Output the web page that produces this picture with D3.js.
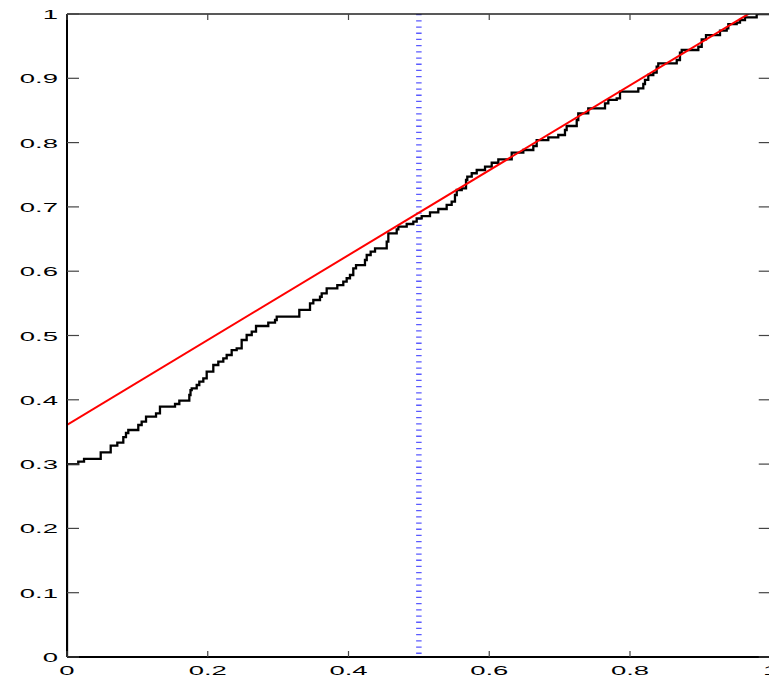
<!DOCTYPE html>
<html>
<head>
<meta charset="utf-8">
<script src="https://cdn.jsdelivr.net/npm/d3@7"></script>
<style>
  html, body { margin: 0; padding: 0; background: #fff; overflow: hidden; }
  svg { display: block; }
  text { font-family: "Liberation Sans", Arial, Helvetica, sans-serif; fill: #000; }
</style>
</head>
<body>
<svg id="chart" width="769" height="678"></svg>
<script>
// Empirical step curve: jump locations and the level reached after each jump
const cdfX = [0, 0, 0.016, 0.0242, 0.0479, 0.0621, 0.0715, 0.080, 0.0838, 0.0871, 0.1013, 0.1061, 0.1123,
  0.1265, 0.1321, 0.1535, 0.1596, 0.1738, 0.1755, 0.1772, 0.1843, 0.188, 0.1937, 0.1985, 0.2079, 0.215,
  0.2221, 0.2269, 0.234, 0.2411, 0.2482, 0.2553, 0.2625, 0.2686, 0.286, 0.2956, 0.298, 0.3301, 0.3453,
  0.35, 0.3595, 0.3619, 0.369, 0.3841, 0.3926, 0.3974, 0.4021, 0.4068, 0.4107, 0.4234, 0.4259, 0.4315,
  0.4377, 0.4543, 0.4566, 0.4685, 0.4708, 0.4827, 0.4921, 0.4969, 0.504, 0.5158, 0.5276, 0.5395, 0.5466,
  0.5513, 0.5538, 0.5609, 0.567, 0.5688, 0.5751, 0.5822, 0.594, 0.6035, 0.6129, 0.6319, 0.6484, 0.6626,
  0.6674, 0.6839, 0.6981, 0.7076, 0.71, 0.7243, 0.7265, 0.7407, 0.7645, 0.7692, 0.7811, 0.7858, 0.8118,
  0.8189, 0.8213, 0.826, 0.8331, 0.8379, 0.8402, 0.8664, 0.871, 0.8735, 0.8971, 0.9019, 0.908, 0.9279,
  0.9374, 0.9397, 0.9516, 0.9563, 0.9634, 0.98, 1];
const cdfY = [0, 0.30, 0.304, 0.308, 0.3183, 0.3286, 0.3333, 0.3421, 0.3484, 0.353, 0.3608, 0.366, 0.3737,
  0.379, 0.3893, 0.3935, 0.3986, 0.4075, 0.4152, 0.4179, 0.423, 0.4282, 0.4334, 0.4437, 0.4541, 0.4593,
  0.4645, 0.4697, 0.4774, 0.4801, 0.493, 0.5008, 0.5059, 0.5148, 0.5199, 0.5241, 0.5292, 0.5397, 0.5501,
  0.5552, 0.5603, 0.5656, 0.5734, 0.5785, 0.5837, 0.589, 0.5941, 0.6045, 0.6096, 0.6174, 0.6252, 0.6303,
  0.6356, 0.6459, 0.6589, 0.6652, 0.6692, 0.6734, 0.677, 0.6823, 0.6858, 0.6916, 0.6967, 0.703, 0.7081,
  0.7185, 0.7263, 0.7289, 0.7418, 0.747, 0.7523, 0.7574, 0.7625, 0.7687, 0.774, 0.7843, 0.7885, 0.7947,
  0.804, 0.8082, 0.8118, 0.8196, 0.8258, 0.8351, 0.8456, 0.8533, 0.8611, 0.8663, 0.8689, 0.8792, 0.8844,
  0.8911, 0.8974, 0.9051, 0.9087, 0.918, 0.9233, 0.9285, 0.9398, 0.944, 0.9491, 0.9606, 0.9673, 0.974,
  0.9778, 0.9844, 0.9865, 0.9907, 0.9949, 1, 1];

// Reference straight line (endpoints over the full x range, clipped to the axes)
const lineX = [0, 1];
const lineY = [0.361, 1.021];

// Vertical dotted marker
const markerX = 0.5;

// Tick values and labels
const xTickVals = [0, 0.2, 0.4, 0.6, 0.8, 1];
const xTickLabels = ["0", "0.2", "0.4", "0.6", "0.8", "1"];
const yTickVals = [0, 0.1, 0.2, 0.3, 0.4, 0.5, 0.6, 0.7, 0.8, 0.9, 1];
const yTickLabels = ["0", "0.1", "0.2", "0.3", "0.4", "0.5", "0.6", "0.7", "0.8", "0.9", "1"];

const pLeft = 67, pRight = 770.75, pTop = 14, pBottom = 657;
const x = d3.scaleLinear().domain([0, 1]).range([pLeft, pRight]);
const y = d3.scaleLinear().domain([0, 1]).range([pBottom, pTop]);

const svg = d3.select("#chart");

svg.append("defs").append("clipPath").attr("id", "plotclip")
  .append("rect")
  .attr("x", pLeft).attr("y", pTop)
  .attr("width", pRight - pLeft).attr("height", pBottom - pTop);

const plot = svg.append("g").attr("clip-path", "url(#plotclip)");

// dotted blue marker at x = 0.5
plot.append("line")
  .attr("x1", x(markerX)).attr("x2", x(markerX))
  .attr("y1", y(1)).attr("y2", y(0))
  .attr("stroke", "#3d3dff")
  .attr("stroke-opacity", 0.85)
  .attr("stroke-width", 5.5)
  .attr("stroke-dasharray", "1.3 4.9");

// step curve
const pts = cdfX.map((d, i) => [d, cdfY[i]]);
plot.append("path")
  .datum(pts)
  .attr("fill", "none")
  .attr("stroke", "#000")
  .attr("stroke-width", 2.3)
  .attr("stroke-linejoin", "miter")
  .attr("d", d3.line().x(d => x(d[0])).y(d => y(d[1])).curve(d3.curveStepAfter));

// red line
plot.append("path")
  .datum(lineX.map((d, i) => [d, lineY[i]]))
  .attr("fill", "none")
  .attr("stroke", "#ff0000")
  .attr("stroke-width", 2)
  .attr("d", d3.line().x(d => x(d[0])).y(d => y(d[1])));

// axes box
const axisG = svg.append("g");
axisG.append("line").attr("x1", pLeft).attr("x2", pLeft).attr("y1", pTop).attr("y2", pBottom)
  .attr("stroke", "#000").attr("stroke-width", 2);
axisG.append("line").attr("x1", pLeft).attr("x2", pRight).attr("y1", pBottom).attr("y2", pBottom)
  .attr("stroke", "#000").attr("stroke-width", 2);
axisG.append("line").attr("x1", pLeft).attr("x2", pRight).attr("y1", pTop).attr("y2", pTop)
  .attr("stroke", "#222").attr("stroke-width", 1.5);
axisG.append("line").attr("x1", pRight).attr("x2", pRight).attr("y1", pTop).attr("y2", pBottom)
  .attr("stroke", "#222").attr("stroke-width", 1.5);

// inward ticks
const tickColor = "#444";
yTickVals.forEach(v => {
  axisG.append("line").attr("x1", pLeft).attr("x2", pLeft + 12).attr("y1", y(v)).attr("y2", y(v))
    .attr("stroke", tickColor).attr("stroke-width", 1.2);
  axisG.append("line").attr("x1", pRight).attr("x2", pRight - 12).attr("y1", y(v)).attr("y2", y(v))
    .attr("stroke", tickColor).attr("stroke-width", 1.2);
});
xTickVals.forEach(v => {
  axisG.append("line").attr("x1", x(v)).attr("x2", x(v)).attr("y1", pBottom).attr("y2", pBottom - 6)
    .attr("stroke", tickColor).attr("stroke-width", 1.2);
  axisG.append("line").attr("x1", x(v)).attr("x2", x(v)).attr("y1", pTop).attr("y2", pTop + 6)
    .attr("stroke", tickColor).attr("stroke-width", 1.2);
});

// tick labels (wide glyphs)
const fs = 12.5, sx = 2.2;
yTickVals.forEach((v, i) => {
  svg.append("text")
    .attr("transform", `translate(${pLeft - 9},${y(v) + 5}) scale(${sx},1)`)
    .attr("text-anchor", "end")
    .attr("font-size", fs)
    .text(yTickLabels[i]);
});
xTickVals.forEach((v, i) => {
  svg.append("text")
    .attr("transform", `translate(${x(v)},${pBottom + 18}) scale(${sx},1)`)
    .attr("text-anchor", "middle")
    .attr("font-size", fs)
    .text(xTickLabels[i]);
});
</script>
</body>
</html>
